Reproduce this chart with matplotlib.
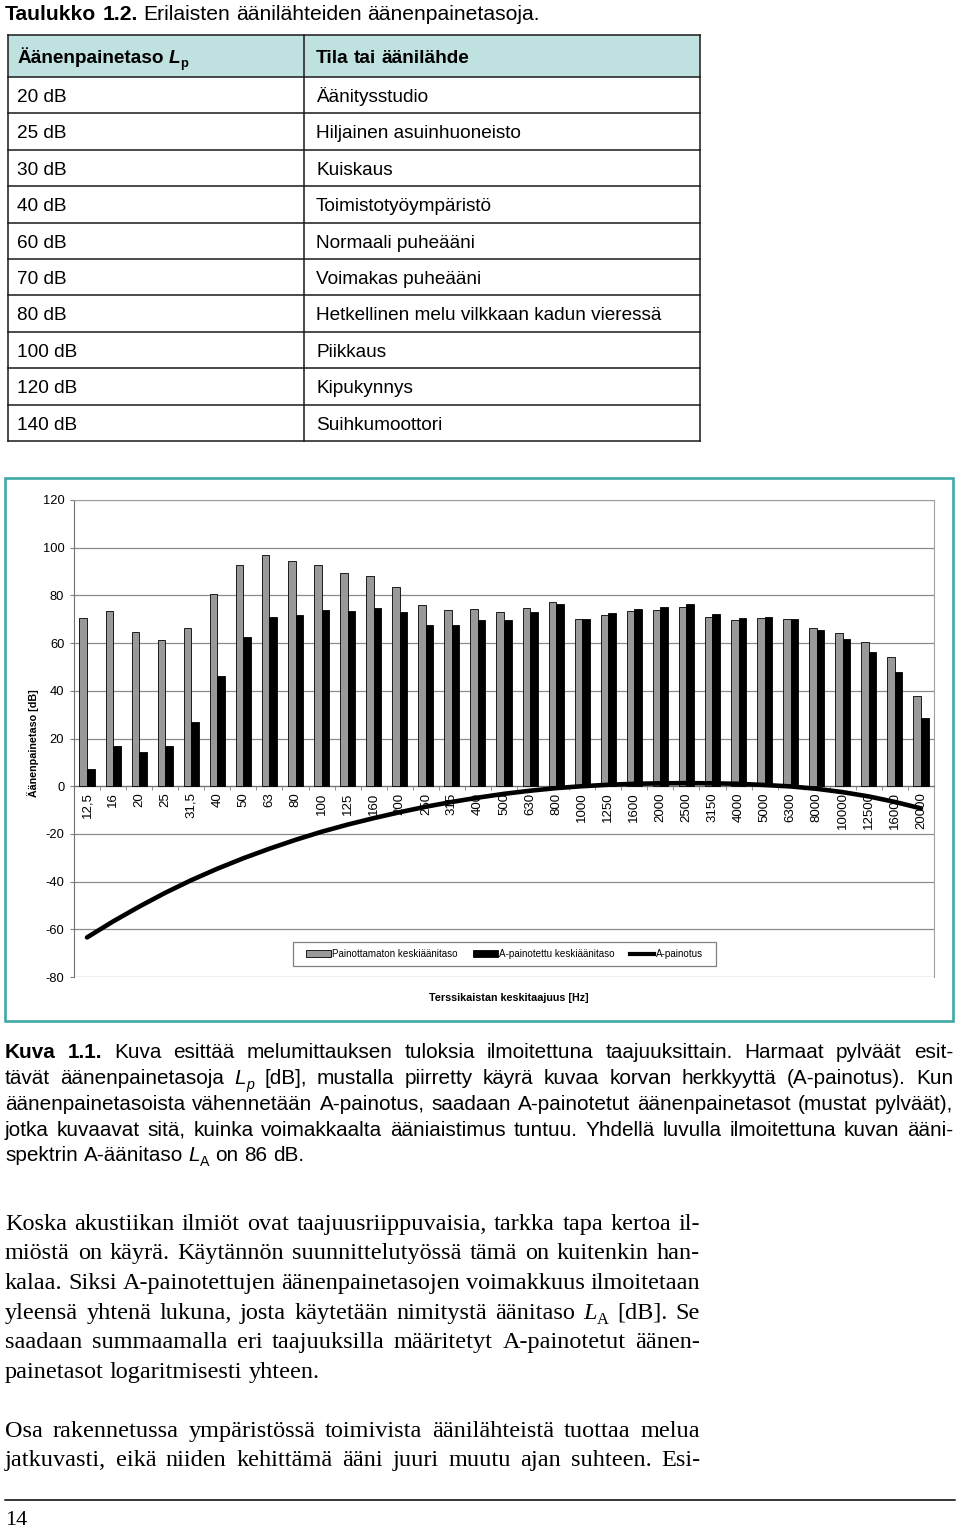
import matplotlib
matplotlib.use('Agg')
import matplotlib.pyplot as plt
from matplotlib import font_manager
from matplotlib.patches import Rectangle, Patch
from matplotlib.lines import Line2D
import numpy as np

W, H = 960, 1529

# --- data -------------------------------------------------------------
levels = ['20 dB', '25 dB', '30 dB', '40 dB', '60 dB', '70 dB', '80 dB',
          '100 dB', '120 dB', '140 dB']
sources = ['Äänitysstudio', 'Hiljainen asuinhuoneisto', 'Kuiskaus',
           'Toimistotyöympäristö', 'Normaali puheääni', 'Voimakas puheääni',
           'Hetkellinen melu vilkkaan kadun vieressä', 'Piikkaus',
           'Kipukynnys', 'Suihkumoottori']

freqs = ['12,5', '16', '20', '25', '31,5', '40', '50', '63', '80', '100',
         '125', '160', '200', '250', '315', '400', '500', '630', '800',
         '1000', '1250', '1600', '2000', '2500', '3150', '4000', '5000',
         '6300', '8000', '10000', '12500', '16000', '20000']
unweighted = [70.6, 73.6, 64.8, 61.4, 66.3, 80.7, 92.7, 96.9, 94.3, 92.9,
              89.4, 88.1, 83.6, 75.9, 73.8, 74.3, 73.0, 74.8, 77.2, 70.1,
              71.9, 73.3, 74.0, 75.2, 70.9, 69.5, 70.5, 70.3, 66.3, 64.2,
              60.4, 54.1, 37.8]
weighted = [7.4, 16.9, 14.5, 16.9, 27.0, 46.2, 62.7, 70.8, 71.9, 73.8,
            73.3, 74.8, 72.9, 67.4, 67.4, 69.5, 69.8, 72.9, 76.4, 70.1,
            72.6, 74.3, 75.2, 76.6, 72.0, 70.5, 71.0, 70.3, 65.3, 61.7,
            56.2, 47.7, 28.7]
a_weight = [-63.4, -56.7, -50.5, -44.7, -39.4, -34.6, -30.2, -26.2, -22.5,
            -19.1, -16.1, -13.4, -10.9, -8.6, -6.6, -4.8, -3.2, -1.9, -0.8,
            0.0, 0.6, 1.0, 1.2, 1.3, 1.2, 1.0, 0.5, -0.1, -1.1, -2.5, -4.3,
            -6.6, -9.3]

Lp_i = [('L', 'i'), ('p', 'si')]
LA_i = [('L', 'i'), ('A', 'sr')]

caption_lines = [
    [[('Kuva', 'b')], [('1.1.', 'b')], 'Kuva', 'esittää', 'melumittauksen', 'tuloksia',
     'ilmoitettuna', 'taajuuksittain.', 'Harmaat', 'pylväät', 'esit-'],
    ['tävät', 'äänenpainetasoja', Lp_i, '[dB],', 'mustalla', 'piirretty', 'käyrä',
     'kuvaa', 'korvan', 'herkkyyttä', '(A-painotus).', 'Kun'],
    'äänenpainetasoista vähennetään A-painotus, saadaan A-painotetut äänenpainetasot (mustat pylväät),'.split(),
    'jotka kuvaavat sitä, kuinka voimakkaalta ääniaistimus tuntuu. Yhdellä luvulla ilmoitettuna kuvan ääni-'.split(),
    ['spektrin', 'A-äänitaso', LA_i, 'on', '86', 'dB.'],
]

body_par1 = [
    'Koska akustiikan ilmiöt ovat taajuusriippuvaisia, tarkka tapa kertoa il-'.split(),
    'miöstä on käyrä. Käytännön suunnittelutyössä tämä on kuitenkin han-'.split(),
    'kalaa. Siksi A-painotettujen äänenpainetasojen voimakkuus ilmoitetaan'.split(),
    'yleensä yhtenä lukuna, josta käytetään nimitystä äänitaso'.split() + [LA_i, '[dB].', 'Se'],
    'saadaan summaamalla eri taajuuksilla määritetyt A-painotetut äänen-'.split(),
    'painetasot logaritmisesti yhteen.'.split(),
]
body_par2 = [
    'Osa rakennetussa ympäristössä toimivista äänilähteistä tuottaa melua'.split(),
    'jatkuvasti, eikä niiden kehittämä ääni juuri muutu ajan suhteen. Esi-'.split(),
]

# --- fonts -------------------------------------------------------------
names = {f.name for f in font_manager.fontManager.ttflist}
SANS = 'Liberation Sans'
NARROW = 'Liberation Sans Narrow' if 'Liberation Sans Narrow' in names else 'Liberation Sans'
SERIF = 'Liberation Serif'
TEAL = '#3ea8a5'

fig = plt.figure(figsize=(W / 100, H / 100), dpi=100)
page = fig.add_axes([0, 0, 1, 1])
page.set_xlim(0, W)
page.set_ylim(H, 0)
page.axis('off')
renderer = fig.canvas.get_renderer()


def style(kind, size):
    px = size * 100 / 72
    kw = dict(fontsize=size, fontweight='normal', fontstyle='normal')
    dy = 0
    if 'b' in kind:
        kw['fontweight'] = 'bold'
    if 'i' in kind:
        kw['fontstyle'] = 'italic'
    if kind.startswith('s'):
        kw['fontsize'] = size * 0.68
        dy = 0.22 * px
    return kw, dy


def make_word(tok, size, family):
    runs = [(tok, 'r')] if isinstance(tok, str) else tok
    arts = []
    for txt, kind in runs:
        kw, dy = style(kind, size)
        t = page.text(0, 0, txt, family=family, va='baseline', ha='left', **kw)
        arts.append((t, t.get_window_extent(renderer).width, dy))
    return arts, sum(a[1] for a in arts)


def space_width(size, family):
    a = page.text(0, 0, 'n n', family=family, fontsize=size)
    b = page.text(0, 0, 'nn', family=family, fontsize=size)
    w = a.get_window_extent(renderer).width - b.get_window_extent(renderer).width
    a.remove()
    b.remove()
    return w


def natural_width(tokens, size, family):
    words = [make_word(t, size, family) for t in tokens]
    w = sum(x[1] for x in words) + space_width(size, family) * (len(words) - 1)
    for arts, _ in words:
        for t, _, _ in arts:
            t.remove()
    return w


def fit(tokens, family, target):
    return 10 * target / natural_width(tokens, 10, family)


def draw_line(tokens, x0, x1, y, size, family, justify=True, color='black'):
    words = [make_word(t, size, family) for t in tokens]
    total = sum(w for _, w in words)
    if justify and len(words) > 1:
        gap = (x1 - x0 - total) / (len(words) - 1)
    else:
        gap = space_width(size, family)
    x = x0
    for arts, w in words:
        xx = x
        for t, tw, dy in arts:
            t.set_position((xx, y + dy))
            t.set_color(color)
            xx += tw
        x += w + gap


def baseline(center, size):
    return center + 0.36 * size * 100 / 72


# --- title and table ----------------------------------------------------
title_tokens = [[('Taulukko', 'b')], [('1.2.', 'b')], 'Erilaisten',
                'äänilähteiden', 'äänenpainetasoja.']
ts = fit(title_tokens, SANS, 536)
draw_line(title_tokens, 5, 0, baseline(12, ts), ts, SANS, justify=False)

tab_size = fit(['Hetkellinen', 'melu', 'vilkkaan', 'kadun', 'vieressä'], SANS, 349)
tx0, tx1, tcol = 8, 700, 304
ty0, thead, ty1 = 35, 77, 441
page.add_patch(Rectangle((tx0, ty0), tx1 - tx0, thead - ty0, facecolor='#bfe1df',
                         edgecolor='none'))
row_h = (ty1 - thead) / len(levels)
line_kw = dict(color='#1a1a1a', lw=1.1)
for i in range(len(levels) + 1):
    yy = thead + i * row_h
    page.plot([tx0, tx1], [yy, yy], **line_kw)
page.plot([tx0, tx1], [ty0, ty0], **line_kw)
page.plot([tx0, tx0], [ty0, ty1], **line_kw)
page.plot([tx1, tx1], [ty0, ty1], **line_kw)
page.plot([tcol, tcol], [ty0, ty1], **line_kw)

hb = baseline((ty0 + thead) / 2, tab_size)
draw_line([[('Äänenpainetaso', 'b')], [('L', 'bi'), ('p', 'sb')]], 17, 0, hb,
          tab_size, SANS, justify=False)
draw_line([[('Tila', 'b')], [('tai', 'b')], [('äänilähde', 'b')]], 316, 0, hb,
          tab_size, SANS, justify=False)
for i, (lv, src) in enumerate(zip(levels, sources)):
    yb = baseline(thead + (i + 0.5) * row_h, tab_size)
    page.text(17, yb, lv, family=SANS, fontsize=tab_size, va='baseline')
    page.text(316, yb, src, family=SANS, fontsize=tab_size, va='baseline')

# --- chart --------------------------------------------------------------
page.add_patch(Rectangle((5, 478), 948, 543, fill=False, edgecolor=TEAL, lw=1.9))

ax = fig.add_axes([74 / W, (H - 977) / H, 860 / W, 477 / H])
ax.patch.set_visible(False)
x = np.arange(len(freqs))
bw = 0.29
ax.bar(x - bw / 2, unweighted, bw, color='#999999', edgecolor='black', lw=0.6, zorder=3)
ax.bar(x + bw / 2, weighted, bw, color='black', edgecolor='black', lw=0.6, zorder=3)
ax.plot(x, a_weight, color='black', lw=3.3, solid_capstyle='round',
        solid_joinstyle='round', zorder=5)

ax.set_xlim(-0.5, len(freqs) - 0.5)
ax.set_ylim(-80, 120)
yt = list(range(-80, 121, 20))
ytick_size = 1.12 * 10 * 19.3 / natural_width(['120'], 10, NARROW)
xtick_size = 1.05 * 10 * 35 / natural_width(['10000'], 10, NARROW)
ax.set_yticks(yt)
ax.set_yticklabels([str(v) for v in yt])
ax.set_xticks(x)
ax.set_xticklabels(freqs)
ax.set_xticks(np.arange(-0.5, len(freqs), 1), minor=True)
ax.tick_params(axis='x', which='major', length=0, pad=4.5, labelrotation=90,
               labelsize=xtick_size, labelfontfamily=NARROW)
ax.tick_params(axis='x', which='minor', length=3, direction='out', color='#808080')
ax.tick_params(axis='y', length=3, color='#808080', pad=4, labelsize=ytick_size,
               labelfontfamily=NARROW)
ax.grid(axis='y', color='#8c8c8c', lw=0.9, zorder=0)
ax.spines['bottom'].set_position(('data', 0))
ax.spines['bottom'].set_color('#707070')
ax.spines['left'].set_color('#707070')
for s in ('top', 'right'):
    ax.spines[s].set_color('#a0a0a0')

ylab_size = fit([[('Äänenpainetaso', 'b')], [('[dB]', 'b')]], NARROW, 107)
page.text(33, 743, 'Äänenpainetaso [dB]', family=NARROW, fontweight='bold',
          fontsize=ylab_size, rotation=90, ha='center', va='center')
xlab_size = fit([[('Terssikaistan', 'b')], [('keskitaajuus', 'b')], [('[Hz]', 'b')]], NARROW, 158)
page.text(509, 998, 'Terssikaistan keskitaajuus [Hz]', family=NARROW, fontweight='bold',
          fontsize=xlab_size, ha='center', va='center')

leg_size = fit(['Painottamaton', 'keskiäänitaso'], NARROW, 127)
page.add_patch(Rectangle((293, 942), 423, 24, facecolor='white', edgecolor='#808080', lw=0.9))
handles = [Patch(facecolor='#999999', edgecolor='black', lw=0.6),
           Patch(facecolor='black', edgecolor='black', lw=0.6),
           Line2D([], [], color='black', lw=3)]
ax.legend(handles, ['Painottamaton keskiäänitaso', 'A-painotettu keskiäänitaso', 'A-painotus'],
          loc='center', bbox_to_anchor=(0.5006, 0.048), ncol=3, frameon=False,
          prop=dict(family=NARROW, size=leg_size), handlelength=2.5, handleheight=0.65,
          handletextpad=0.15, columnspacing=1.5, borderaxespad=0)

# --- caption and body text -------------------------------------------------
cap_size = fit(caption_lines[-1], NARROW, 300)
for i, toks in enumerate(caption_lines):
    yb = baseline(1051 + i * 25.75, cap_size)
    draw_line(toks, 5, 953, yb, cap_size, NARROW, justify=(i < len(caption_lines) - 1))

body_size = fit(body_par1[-1], SERIF, 314)
for i, toks in enumerate(body_par1):
    yb = baseline(1221 + i * 29.6, body_size)
    draw_line(toks, 5, 700, yb, body_size, SERIF, justify=(i < len(body_par1) - 1))
for i, toks in enumerate(body_par2):
    yb = baseline(1428 + i * 29.6, body_size)
    draw_line(toks, 5, 700, yb, body_size, SERIF, justify=True)

page.plot([5, 955], [1500, 1500], color='black', lw=1.1)
page.text(5, 1525, '14', family=SERIF, fontsize=16, va='baseline')

fig.savefig('out.png', dpi=100)
